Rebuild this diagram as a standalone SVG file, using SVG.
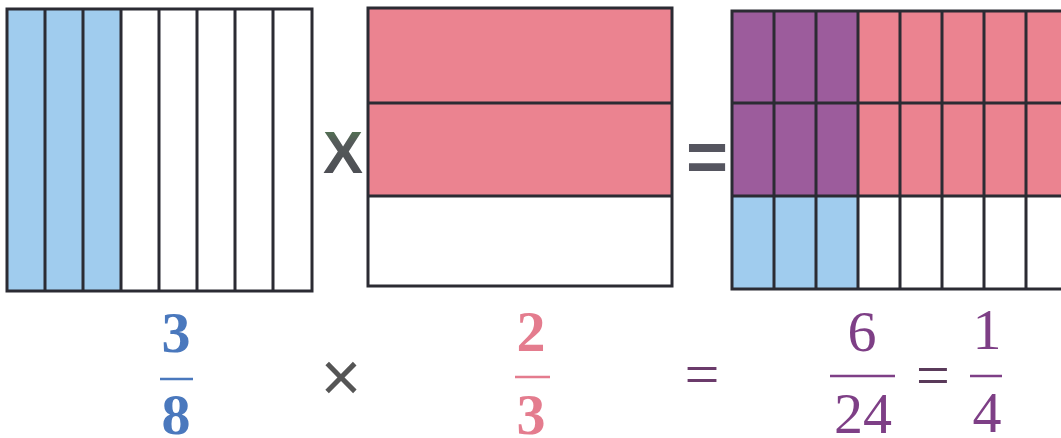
<svg xmlns="http://www.w3.org/2000/svg" width="1061" height="438" viewBox="0 0 1061 438">
<style>
.grid{fill:none;stroke:#2b2b33;stroke-width:3}
.ln{stroke:#2b2b33;stroke-width:3}
.blue{fill:#a0ccee}
.pink{fill:#eb8390}
.purple{fill:#9c5c9c}
.num{font-family:"Liberation Serif",serif;font-size:58px;text-anchor:middle}
.bar{stroke-width:2.5}
</style>
<defs>
<linearGradient id="xg" x1="0" y1="0" x2="0" y2="1">
<stop offset="0" stop-color="#4f8a4a"/>
<stop offset="0.35" stop-color="#555a5a"/>
<stop offset="1" stop-color="#4a4a52"/>
</linearGradient>
</defs>
<rect width="1061" height="438" fill="#ffffff"/>

<g id="fraction-3-8-model">
<rect class="blue" x="7" y="9" width="114" height="282"/>
<rect class="grid" x="7" y="9" width="305" height="282"/>
<line class="ln" x1="45" y1="9" x2="45" y2="291"/>
<line class="ln" x1="83" y1="9" x2="83" y2="291"/>
<line class="ln" x1="121" y1="9" x2="121" y2="291"/>
<line class="ln" x1="159" y1="9" x2="159" y2="291"/>
<line class="ln" x1="197" y1="9" x2="197" y2="291"/>
<line class="ln" x1="235" y1="9" x2="235" y2="291"/>
<line class="ln" x1="273" y1="9" x2="273" y2="291"/>
</g>

<g id="times-sign-top">
<text x="343" y="173" font-family="Liberation Sans, sans-serif" font-weight="bold" font-size="60" text-anchor="middle" fill="url(#xg)">X</text>
</g>

<g id="fraction-2-3-model">
<rect class="pink" x="368" y="8" width="304" height="188"/>
<rect class="grid" x="368" y="8" width="304" height="278"/>
<line class="ln" x1="368" y1="103" x2="672" y2="103"/>
<line class="ln" x1="368" y1="196" x2="672" y2="196"/>
</g>

<g id="equals-sign-top">
<text x="707" y="181" font-family="Liberation Sans, sans-serif" font-weight="bold" font-size="72" text-anchor="middle" fill="#55555f">=</text>
</g>

<g id="product-model">
<rect class="purple" x="732" y="11" width="126" height="185"/>
<rect class="pink" x="858" y="11" width="210" height="185"/>
<rect class="blue" x="732" y="196" width="126" height="93"/>
<rect class="grid" x="732" y="11" width="336" height="278"/>
<line class="ln" x1="732" y1="103" x2="1068" y2="103"/>
<line class="ln" x1="732" y1="196" x2="1068" y2="196"/>
<line class="ln" x1="774" y1="11" x2="774" y2="289"/>
<line class="ln" x1="816" y1="11" x2="816" y2="289"/>
<line class="ln" x1="858" y1="11" x2="858" y2="289"/>
<line class="ln" x1="900" y1="11" x2="900" y2="289"/>
<line class="ln" x1="942" y1="11" x2="942" y2="289"/>
<line class="ln" x1="984" y1="11" x2="984" y2="289"/>
<line class="ln" x1="1026" y1="11" x2="1026" y2="289"/>
</g>

<g id="label-3-8" fill="#4a78bd">
<text class="num" x="176" y="352" font-weight="bold">3</text>
<line class="bar" x1="160" y1="379" x2="193" y2="379" stroke="#4a78bd"/>
<text class="num" x="176" y="434" font-weight="bold">8</text>
</g>

<g id="label-times">
<text x="341" y="401" font-family="Liberation Sans, sans-serif" font-size="70" text-anchor="middle" fill="#555">×</text>
</g>

<g id="label-2-3" fill="#e47c8e">
<text class="num" x="531" y="351" font-weight="bold">2</text>
<line class="bar" x1="515" y1="377" x2="550" y2="377" stroke="#e47c8e"/>
<text class="num" x="531" y="434" font-weight="bold">3</text>
</g>

<g id="label-equals">
<text x="702" y="395" font-family="Liberation Serif, serif" font-size="62" text-anchor="middle" fill="#6b3b6b">=</text>
</g>

<g id="label-6-24" fill="#7e3f86">
<text class="num" x="862" y="351">6</text>
<line class="bar" x1="830" y1="376" x2="895" y2="376" stroke="#7e3f86"/>
<text class="num" x="863" y="433">24</text>
</g>

<g id="label-equals-2">
<text x="933" y="395" font-family="Liberation Serif, serif" font-size="60" text-anchor="middle" fill="#5a3a5a">=</text>
</g>

<g id="label-1-4" fill="#7e3f86">
<text class="num" x="987" y="349">1</text>
<line class="bar" x1="970" y1="376" x2="1002" y2="376" stroke="#7e3f86"/>
<text class="num" x="987" y="432">4</text>
</g>
</svg>
